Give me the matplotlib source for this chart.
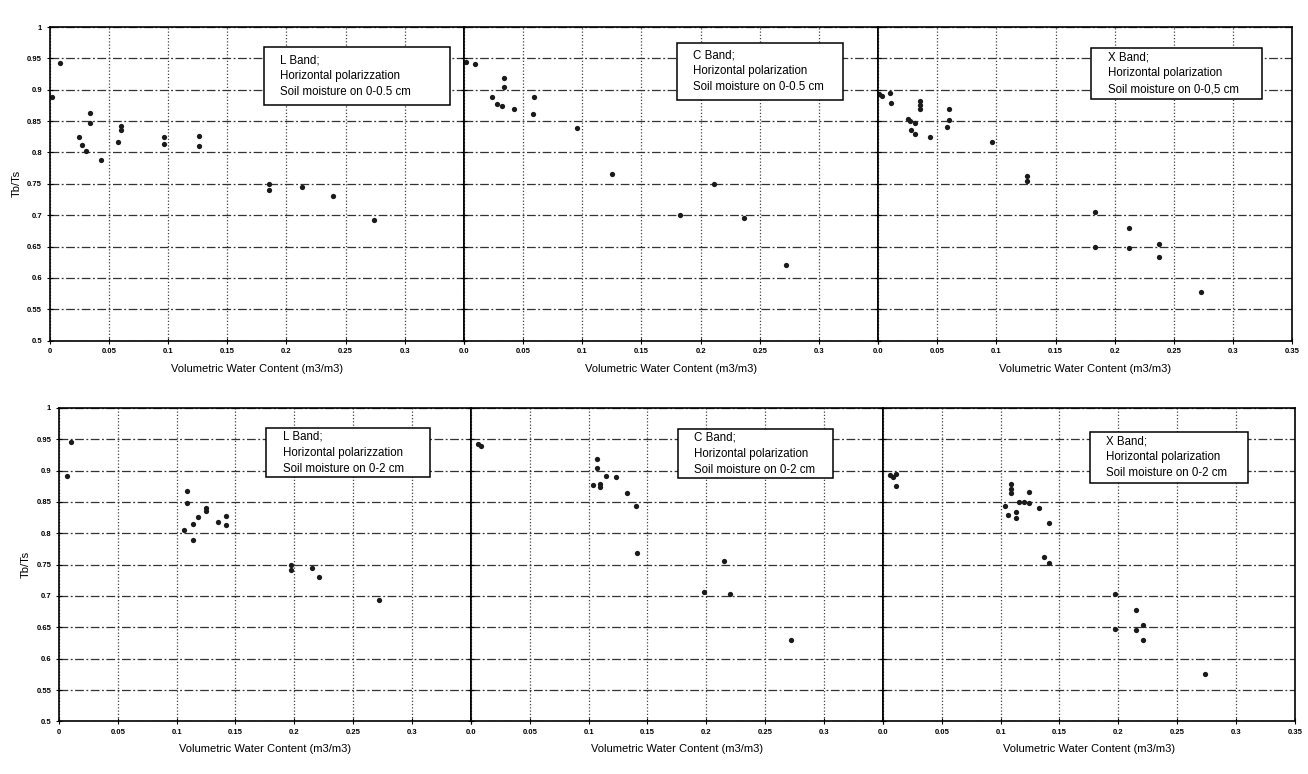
import matplotlib
matplotlib.use("Agg")
import matplotlib.pyplot as plt
from matplotlib.patches import Rectangle

plt.rcParams["font.family"] = ["Liberation Sans", "DejaVu Sans"]

# Tb/Ts against volumetric water content, soil moisture on 0-0.5 cm
l05_x = [0.009, 0.002, 0.025, 0.027, 0.031, 0.034, 0.034, 0.043, 0.058, 0.060,
         0.060, 0.097, 0.097, 0.126, 0.126, 0.185, 0.185, 0.213, 0.239, 0.274]
l05_y = [0.943, 0.889, 0.824, 0.812, 0.803, 0.863, 0.847, 0.788, 0.816, 0.843,
         0.836, 0.825, 0.814, 0.827, 0.811, 0.750, 0.740, 0.745, 0.730, 0.693]

c05_x = [0.002, 0.009, 0.024, 0.028, 0.032, 0.034, 0.034, 0.042, 0.058, 0.059,
         0.0955, 0.125, 0.183, 0.2115, 0.237, 0.272]
c05_y = [0.945, 0.941, 0.889, 0.877, 0.874, 0.919, 0.904, 0.870, 0.861, 0.888,
         0.839, 0.766, 0.700, 0.750, 0.695, 0.620]

x05_x = [0.001, 0.003, 0.010, 0.0105, 0.025, 0.027, 0.028, 0.031, 0.031, 0.035,
         0.035, 0.035, 0.0435, 0.058, 0.060, 0.060, 0.0966, 0.1256, 0.1256, 0.183,
         0.183, 0.2117, 0.2117, 0.237, 0.237, 0.273]
x05_y = [0.893, 0.890, 0.895, 0.879, 0.853, 0.851, 0.836, 0.847, 0.830, 0.882,
         0.875, 0.869, 0.825, 0.841, 0.870, 0.852, 0.817, 0.763, 0.754, 0.705,
         0.650, 0.679, 0.647, 0.654, 0.633, 0.578]

# same, soil moisture on 0-2 cm
l2_x = [0.010, 0.007, 0.109, 0.109, 0.1065, 0.1136, 0.114, 0.118, 0.125, 0.125,
        0.135, 0.142, 0.142, 0.1975, 0.1975, 0.215, 0.221, 0.272]
l2_y = [0.946, 0.892, 0.867, 0.849, 0.805, 0.789, 0.815, 0.826, 0.840, 0.836,
        0.818, 0.827, 0.814, 0.750, 0.741, 0.745, 0.730, 0.694]

c2_x = [0.006, 0.0085, 0.107, 0.107, 0.115, 0.123, 0.104, 0.110, 0.110, 0.133,
        0.140, 0.141, 0.215, 0.198, 0.220, 0.272]
c2_y = [0.942, 0.939, 0.919, 0.904, 0.891, 0.889, 0.877, 0.879, 0.874, 0.864,
        0.844, 0.769, 0.755, 0.707, 0.703, 0.629]

x2_x = [0.006, 0.009, 0.011, 0.011, 0.109, 0.109, 0.109, 0.124, 0.104, 0.106,
        0.113, 0.113, 0.116, 0.120, 0.124, 0.133, 0.141, 0.137, 0.141, 0.197,
        0.197, 0.215, 0.215, 0.221, 0.221, 0.274]
x2_y = [0.893, 0.890, 0.894, 0.875, 0.878, 0.871, 0.865, 0.866, 0.844, 0.829,
        0.824, 0.834, 0.850, 0.850, 0.849, 0.840, 0.816, 0.762, 0.753, 0.703,
        0.647, 0.678, 0.645, 0.653, 0.630, 0.575]

bands = ["L Band;", "C Band;", "X Band;"]
polar = ["Horizontal polarizzation", "Horizontal polarization", "Horizontal polarization"]
depth_top = ["Soil moisture on 0-0.5 cm", "Soil moisture on 0-0.5 cm", "Soil moisture on 0-0,5 cm"]
depth_bottom = ["Soil moisture on 0-2 cm"] * 3

x_ticks = [0, 0.05, 0.1, 0.15, 0.2, 0.25, 0.3, 0.35]
y_ticks = [0.5, 0.55, 0.6, 0.65, 0.7, 0.75, 0.8, 0.85, 0.9, 0.95, 1.0]
y_ticklabels = ["0.5", "0.55", "0.6", "0.65", "0.7", "0.75", "0.8", "0.85", "0.9", "0.95", "1"]

rows = [
    ([(l05_x, l05_y), (c05_x, c05_y), (x05_x, x05_y)], depth_top),
    ([(l2_x, l2_y), (c2_x, c2_y), (x2_x, x2_y)], depth_bottom),
]

# note boxes in axes fractions: (x0, x1, y0, y1)
note_boxes = [
    [(0.517, 0.967, 0.750, 0.937), (0.514, 0.915, 0.769, 0.948), (0.514, 0.926, 0.772, 0.932)],
    [(0.503, 0.900, 0.778, 0.935), (0.502, 0.880, 0.777, 0.932), (0.502, 0.887, 0.760, 0.924)],
]

fig = plt.figure(figsize=(13.08, 7.74), dpi=100)
row_boxes = [(0.038, 0.560, 0.950, 0.405), (0.045, 0.068, 0.945, 0.405)]

for r, ((series, depths), (left, bottom, width, height)) in enumerate(zip(rows, row_boxes)):
    w = width / 3
    for i, (xs, ys) in enumerate(series):
        ax = fig.add_axes([left + i * w, bottom, w, height])
        ax.set_xlim(0, 0.35)
        ax.set_ylim(0.5, 1.0)
        ax.set_xticks(x_ticks)
        ax.set_yticks(y_ticks)

        if i == 0:
            xl = ["0", "0.05", "0.1", "0.15", "0.2", "0.25", "0.3", ""]
            ax.set_yticklabels(y_ticklabels)
            ax.set_ylabel("Tb/Ts", fontsize=8, labelpad=4)
        else:
            xl = ["0.0", "0.05", "0.1", "0.15", "0.2", "0.25", "0.3",
                  "0.35" if i == 2 else ""]
            ax.set_yticklabels([])
        ax.set_xticklabels(xl)
        ax.tick_params(axis="both", direction="inout", length=5, width=0.8,
                       labelsize=5.5, pad=3)
        for lab in ax.get_xticklabels() + ax.get_yticklabels():
            lab.set_fontweight("bold")

        # horizontal grid dash-dot, vertical grid dotted
        ax.grid(axis="y", color="#333333", linewidth=0.9,
                linestyle=(0, (7, 2, 1.5, 2)))
        ax.grid(axis="x", color="#444444", linewidth=0.9, linestyle=(0, (1, 1.6)))
        ax.set_axisbelow(True)

        for sp in ax.spines.values():
            sp.set_linewidth(1.2)
            sp.set_color("black")

        ax.plot(xs, ys, linestyle="none", marker="o", markersize=3.8,
                color="#1a1a1a", markeredgewidth=0)

        ax.set_xlabel("Volumetric Water Content (m3/m3)", fontsize=8, labelpad=6)

        x0, x1, y0, y1 = note_boxes[r][i]
        ax.add_patch(Rectangle((x0, y0), x1 - x0, y1 - y0, transform=ax.transAxes,
                               facecolor="white", edgecolor="black", linewidth=1.1,
                               zorder=4))
        ax.text(x0 + 0.04, (y0 + y1) / 2, bands[i] + "\n" + polar[i] + "\n" + depths[i],
                transform=ax.transAxes, ha="left", va="center", fontsize=8.3,
                linespacing=1.45, zorder=5)

fig.savefig("out.png", dpi=100, facecolor="white")
